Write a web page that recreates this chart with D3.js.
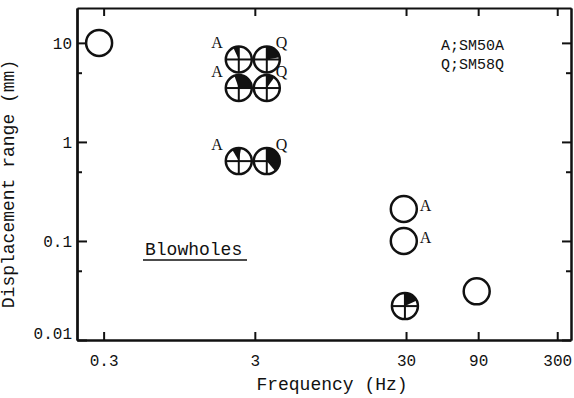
<!DOCTYPE html>
<html>
<head>
<meta charset="utf-8">
<script src="https://cdn.jsdelivr.net/npm/d3@7/dist/d3.min.js"></script>
<style>
  body { margin: 0; background: #fff; }
  svg { display: block; }
  text { font-family: "Liberation Mono", "DejaVu Sans Mono", monospace; fill: #111; }
</style>
</head>
<body>
<svg id="chart" width="574" height="398"></svg>
<script>
// frequency ticks (Hz) and displacement ticks (mm)
const xTicks = [0.3, 3, 30, 90, 300];
const yTicks = [0.01, 0.1, 1, 10];
const yMinorTicks = [0.05, 0.5, 5];

const pointFreq = [0.28, 2.35, 3.6, 2.35, 3.6, 2.35, 3.6, 29, 29, 29.5, 88];
const pointDisp = [10, 6.8, 6.8, 3.5, 3.5, 0.64, 0.64, 0.21, 0.1, 0.022, 0.031];
const pointCrossed = [false, true, true, true, true, true, true, false, false, true, false];
// blackened sector of the crossed circles, degrees clockwise from 12 o'clock
const wedgeFrom = [0, -25, 0, -20, 0, -30, 0, 0, 0, 0, 0];
const wedgeTo = [0, 0, 80, 90, 35, 10, 140, 0, 0, 65, 0];
const pointLabel = ["", "A", "Q", "A", "Q", "A", "Q", "A", "A", "", ""];
const labelSide = ["", "upleft", "upright", "upleft", "upright", "upleft", "upright", "right", "right", "", ""];

const legendLines = ["A;SM50A", "Q;SM58Q"];

const svg = d3.select("#chart");
const plotLeft = 77, plotRight = 571, plotTop = 8, plotBottom = 340;
const r = 13;

const x = d3.scaleLog().domain([0.2, 370]).range([plotLeft, plotRight]);
const y = d3.scaleLog().domain([0.01, 22.5]).range([plotBottom, plotTop]);

// axes, ticks pointing into the plot
const bottomAxis = svg.append("g")
  .attr("transform", "translate(0," + plotBottom + ")")
  .call(d3.axisBottom(x).tickValues(xTicks).tickFormat(d => d)
    .tickSizeInner(-8).tickSizeOuter(0).tickPadding(15));

svg.append("g")
  .attr("transform", "translate(0," + plotTop + ")")
  .call(d3.axisTop(x).tickValues(xTicks).tickFormat("")
    .tickSizeInner(-8).tickSizeOuter(0));

const leftAxis = svg.append("g")
  .attr("transform", "translate(" + plotLeft + ",0)")
  .call(d3.axisLeft(y).tickValues(yTicks).tickFormat(d => d)
    .tickSizeInner(-10).tickSizeOuter(0).tickPadding(5));

svg.append("g")
  .attr("transform", "translate(" + plotLeft + ",0)")
  .call(d3.axisLeft(y).tickValues(yMinorTicks).tickFormat("")
    .tickSizeInner(-5).tickSizeOuter(0));

svg.append("g")
  .attr("transform", "translate(" + plotRight + ",0)")
  .call(d3.axisRight(y).tickValues(yTicks).tickFormat("")
    .tickSizeInner(-9).tickSizeOuter(0));

svg.append("g")
  .attr("transform", "translate(" + plotRight + ",0)")
  .call(d3.axisRight(y).tickValues(yMinorTicks).tickFormat("")
    .tickSizeInner(-5).tickSizeOuter(0));

svg.selectAll(".domain").attr("stroke", "#111").attr("stroke-width", 2);
svg.selectAll(".tick line").attr("stroke", "#111").attr("stroke-width", 2);
bottomAxis.select(".domain").attr("stroke-width", 2.5);
leftAxis.select(".domain").attr("stroke-width", 2.5);

svg.selectAll(".tick text")
  .style("font-family", "'Liberation Mono', monospace")
  .style("font-size", "16px")
  .attr("fill", "#111");

// the lowest label sits on the axis line
leftAxis.selectAll(".tick text")
  .filter(d => d === 0.01)
  .attr("dy", "-0.1em");

// axis titles
svg.append("text")
  .attr("x", 332)
  .attr("y", 390)
  .attr("text-anchor", "middle")
  .style("font-size", "18px")
  .text("Frequency (Hz)");

svg.append("text")
  .attr("transform", "translate(14,184) rotate(-90)")
  .attr("text-anchor", "middle")
  .style("font-size", "18px")
  .text("Displacement range (mm)");

// legend
svg.selectAll(".legend")
  .data(legendLines)
  .enter()
  .append("text")
  .attr("x", 441)
  .attr("y", (d, i) => 50 + i * 19)
  .style("font-size", "15px")
  .text(d => d);

// Blowholes note
svg.append("text")
  .attr("x", 145)
  .attr("y", 255)
  .style("font-size", "18px")
  .text("Blowholes");
svg.append("line")
  .attr("x1", 143).attr("x2", 247)
  .attr("y1", 260).attr("y2", 260)
  .attr("stroke", "#111").attr("stroke-width", 1.5);

// points
const pts = pointFreq.map((f, i) => ({
  cx: x(f), cy: y(pointDisp[i]),
  crossed: pointCrossed[i],
  a0: wedgeFrom[i], a1: wedgeTo[i],
  label: pointLabel[i], side: labelSide[i]
}));

const arc = d3.arc().innerRadius(0).outerRadius(r);

const g = svg.selectAll(".pt")
  .data(pts)
  .enter()
  .append("g")
  .attr("transform", d => "translate(" + d.cx + "," + d.cy + ")");

g.append("circle")
  .attr("r", r)
  .attr("fill", "#fff");

g.filter(d => d.a1 > d.a0)
  .append("path")
  .attr("d", d => arc({ startAngle: d.a0 * Math.PI / 180, endAngle: d.a1 * Math.PI / 180 }))
  .attr("fill", "#111");

const crossed = g.filter(d => d.crossed);
crossed.append("line")
  .attr("x1", -r).attr("x2", r).attr("y1", 0).attr("y2", 0)
  .attr("stroke", "#111").attr("stroke-width", 2);
crossed.append("line")
  .attr("x1", 0).attr("x2", 0).attr("y1", -r).attr("y2", r)
  .attr("stroke", "#111").attr("stroke-width", 2);

g.append("circle")
  .attr("r", r)
  .attr("fill", "none")
  .attr("stroke", "#111")
  .attr("stroke-width", 2.5);

// A / Q labels beside the circles
g.filter(d => d.label !== "")
  .append("text")
  .attr("x", d => d.side === "upleft" ? -16 : d.side === "upright" ? 9 : 16)
  .attr("y", d => d.side === "right" ? 2 : -11)
  .attr("text-anchor", d => d.side === "upleft" ? "end" : "start")
  .style("font-family", "'Liberation Serif', serif")
  .style("font-size", "16px")
  .text(d => d.label);
</script>
</body>
</html>
